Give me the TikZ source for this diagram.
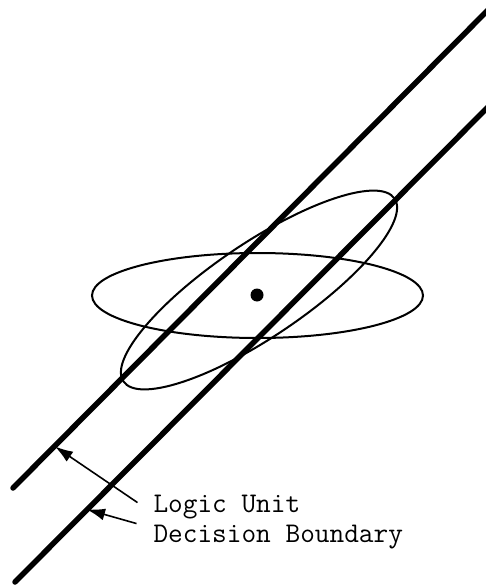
\documentclass[tikz,border=0pt]{standalone}
\usepackage{fontspec}
\usepackage{tikz}
\usetikzlibrary{arrows.meta}

\begin{document}
\begin{tikzpicture}[x=1pt,y=-1pt,line width=2pt,
    boundary/.style={line width=5.5pt,line cap=round},
    pointer/.style={line width=1.6pt,-{Latex[length=18pt,width=12pt]}},
    dot/.style={circle,fill=black,inner sep=0pt,minimum size=13pt},
    caption/.style={anchor=base west,inner sep=0pt,font=\ttfamily\fontsize{28.5}{30}\selectfont}]
        \useasboundingbox (0,0) rectangle (485,588);
        % the two parallel boundaries
        \draw[boundary] (13,488)--(490,8);
        \draw[boundary] (15,582)--(490,105);
        % the two ellipses
        \coordinate (c1) at (257.5,295.5);
        \coordinate (c2) at (259,290);
        \draw (c1) ellipse [x radius=165.5,y radius=42.5];
        \draw[rotate around={34:(c2)}] (c2) ellipse [x radius=163.5,y radius=47];
        \node[dot] (mean) at (257,295){};
        % labels
        \node[caption] (logic) at (152.5,512){Logic Unit};
        \node[caption] (bound) at (152.5,542){Decision Boundary};
        \coordinate (t1) at (55,446.5);
        \coordinate (t2) at (87,509.5);
        \draw[pointer] ([shift={(-15,-4)}]logic.west)--(t1);
        \draw[pointer] ([shift={(-16,-13)}]bound.west)--(t2);
    \end{tikzpicture}
\end{document}
